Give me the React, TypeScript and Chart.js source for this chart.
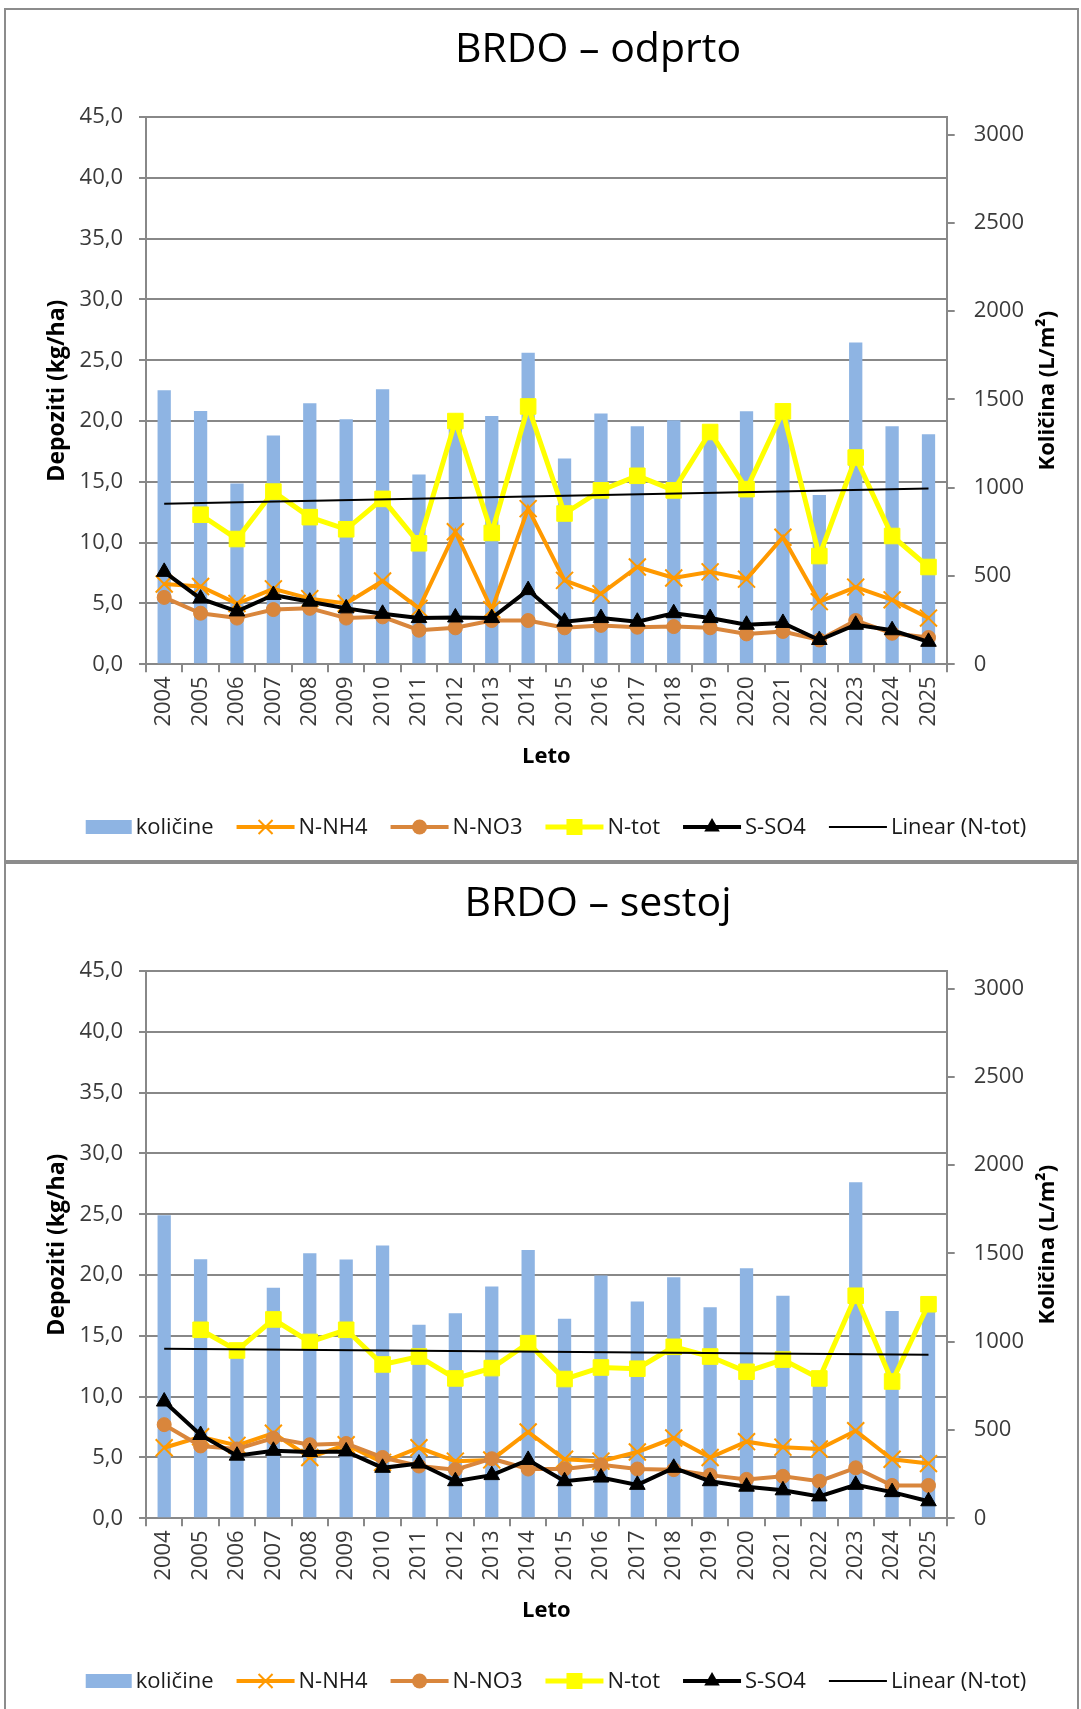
import React, { useEffect, useRef } from 'react';
import { Chart, registerables } from 'chart.js';

Chart.register(...registerables);

// ---------- data ----------
const years = ['2004', '2005', '2006', '2007', '2008', '2009', '2010', '2011', '2012', '2013', '2014',
  '2015', '2016', '2017', '2018', '2019', '2020', '2021', '2022', '2023', '2024', '2025'];

const leftTickMax = 45;
const leftTickStep = 5;
const rightTickMax = 3100;
const rightTicks = [0, 500, 1000, 1500, 2000, 2500, 3000];

// BRDO – odprto
const odprtoKolicine = [1552, 1435, 1024, 1296, 1478, 1388, 1558, 1075, 1360, 1407, 1765, 1166, 1420, 1349, 1382, 1320, 1433, 1430, 959, 1823, 1349, 1303];
const odprtoNNH4 = [6.6, 6.4, 5.0, 6.2, 5.4, 5.0, 6.85, 4.6, 10.9, 4.5, 12.8, 6.9, 5.8, 8.0, 7.1, 7.6, 7.0, 10.45, 5.15, 6.35, 5.3, 3.8];
const odprtoNNO3 = [5.5, 4.2, 3.8, 4.5, 4.6, 3.8, 3.9, 2.8, 3.0, 3.6, 3.6, 3.0, 3.2, 3.05, 3.1, 3.0, 2.5, 2.7, 2.0, 3.6, 2.55, 2.2];
const odprtoNtot = [null, 12.3, 10.3, 14.2, 12.1, 11.1, 13.6, 9.95, 20.0, 10.8, 21.2, 12.4, 14.3, 15.5, 14.3, 19.1, 14.4, 20.8, 8.9, 17.0, 10.55, 8.0];
const odprtoSSO4 = [7.6, 5.4, 4.35, 5.7, 5.15, 4.6, 4.15, 3.8, 3.85, 3.8, 6.1, 3.5, 3.8, 3.5, 4.2, 3.8, 3.25, 3.4, 2.0, 3.25, 2.8, 1.85];
const odprtoTrend = [13.2, null, null, null, null, null, null, null, null, null, null,
  null, null, null, null, null, null, null, null, null, null, 14.45];

// BRDO – sestoj
const sestojKolicine = [1717, 1467, 950, 1306, 1501, 1466, 1545, 1097, 1162, 1313, 1520, 1130, 1375, 1228, 1366, 1196, 1417, 1260, 830, 1903, 1174, 1210];
const sestojNNH4 = [5.8, 6.7, 6.0, 7.0, 5.0, 6.05, 4.6, 5.8, 4.7, 4.8, 7.1, 4.85, 4.7, 5.45, 6.6, 5.0, 6.3, 5.85, 5.7, 7.2, 4.85, 4.5];
const sestojNNO3 = [7.7, 5.95, 5.7, 6.6, 6.05, 6.15, 5.0, 4.3, 4.0, 4.9, 4.05, 4.05, 4.4, 4.05, 4.0, 3.55, 3.2, 3.45, 3.05, 4.15, 2.7, 2.7];
const sestojNtot = [null, 15.5, 13.8, 16.35, 14.5, 15.5, 12.65, 13.3, 11.5, 12.35, 14.4, 11.45, 12.4, 12.3, 14.1, 13.3, 12.05, 13.05, 11.5, 18.3, 11.25, 17.6];
const sestojSSO4 = [9.6, 6.85, 5.15, 5.55, 5.45, 5.5, 4.15, 4.5, 3.05, 3.55, 4.8, 3.05, 3.35, 2.75, 4.15, 3.05, 2.6, 2.3, 1.8, 2.75, 2.15, 1.4];
const sestojTrend = [13.95, null, null, null, null, null, null, null, null, null, null,
  null, null, null, null, null, null, null, null, null, null, 13.45];

// ---------- styles ----------
const FONT = '"Open Sans", "Noto Sans", sans-serif';
const GRID = '#888888';
const TICK = '#3a3a3a';
const BAR_C = '#8EB4E3';
const NH4_C = '#FF9900';
const NO3_C = '#D9863C';
const NTOT_C = '#FFFF00';
const SO4_C = '#000000';

const CANVAS_W = 1071;
const CANVAS_H = 850;

type Series = {
  title: string;
  kolicine: number[];
  nh4: number[];
  no3: number[];
  ntot: (number | null)[];
  so4: number[];
  trend: (number | null)[];
};

function drawMarker(ctx: CanvasRenderingContext2D, style: string, x: number, y: number, color: string) {
  ctx.save();
  ctx.fillStyle = color;
  ctx.strokeStyle = color;
  if (style === 'crossRot') {
    ctx.lineWidth = 2;
    const s = 7;
    ctx.beginPath();
    ctx.moveTo(x - s, y - s); ctx.lineTo(x + s, y + s);
    ctx.moveTo(x + s, y - s); ctx.lineTo(x - s, y + s);
    ctx.stroke();
  } else if (style === 'circle') {
    ctx.beginPath();
    ctx.arc(x, y, 7.5, 0, Math.PI * 2);
    ctx.fill();
  } else if (style === 'rect') {
    ctx.fillRect(x - 8, y - 8, 16, 16);
  } else if (style === 'triangle') {
    const r = 9;
    ctx.beginPath();
    ctx.moveTo(x, y - r);
    ctx.lineTo(x + r * Math.sin((2 * Math.PI) / 3), y - r * Math.cos((2 * Math.PI) / 3));
    ctx.lineTo(x + r * Math.sin((4 * Math.PI) / 3), y - r * Math.cos((4 * Math.PI) / 3));
    ctx.closePath();
    ctx.fill();
  }
  ctx.restore();
}

type LegendItem = { label: string; kind: 'box' | 'line'; color: string; lw: number; marker?: string };

const legendItems: LegendItem[] = [
  { label: 'količine', kind: 'box', color: BAR_C, lw: 0 },
  { label: 'N-NH4', kind: 'line', color: NH4_C, lw: 4, marker: 'crossRot' },
  { label: 'N-NO3', kind: 'line', color: NO3_C, lw: 4, marker: 'circle' },
  { label: 'N-tot', kind: 'line', color: NTOT_C, lw: 5, marker: 'rect' },
  { label: 'S-SO4', kind: 'line', color: SO4_C, lw: 4, marker: 'triangle' },
  { label: 'Linear (N-tot)', kind: 'line', color: '#000000', lw: 2 },
];

function makeDecorPlugin(title: string) {
  return {
    id: 'decor',
    afterDraw(chart: any) {
      const ctx: CanvasRenderingContext2D = chart.ctx;
      const ca = chart.chartArea;
      ctx.save();
      // chart title
      ctx.font = `41px ${FONT}`;
      ctx.fillStyle = '#000000';
      ctx.textAlign = 'center';
      ctx.textBaseline = 'alphabetic';
      ctx.fillText(title, 592, 52);

      // right axis title (reads bottom to top)
      ctx.save();
      ctx.font = `bold 22px ${FONT}`;
      ctx.translate(1042, (ca.top + ca.bottom) / 2);
      ctx.rotate(-Math.PI / 2);
      ctx.textAlign = 'center';
      ctx.textBaseline = 'middle';
      ctx.fillText('Količina (L/m²)', 0, 0);
      ctx.restore();

      // legend
      ctx.font = `22px ${FONT}`;
      ctx.textBaseline = 'middle';
      ctx.textAlign = 'left';
      const boxW = 46, lineW = 58, gapSym = 4, gapItem = 23;
      let total = 0;
      legendItems.forEach((it, i) => {
        total += (it.kind === 'box' ? boxW : lineW) + gapSym + ctx.measureText(it.label).width;
        if (i < legendItems.length - 1) total += gapItem;
      });
      let x = 550 - total / 2;
      const y = 817;
      legendItems.forEach((it) => {
        if (it.kind === 'box') {
          ctx.fillStyle = it.color;
          ctx.fillRect(x, y - 7, boxW, 14);
          x += boxW;
        } else {
          ctx.strokeStyle = it.color;
          ctx.lineWidth = it.lw;
          ctx.beginPath();
          ctx.moveTo(x, y);
          ctx.lineTo(x + lineW, y);
          ctx.stroke();
          if (it.marker) drawMarker(ctx, it.marker, x + lineW / 2, y, it.color);
          x += lineW;
        }
        x += gapSym;
        ctx.fillStyle = '#1a1a1a';
        ctx.fillText(it.label, x, y + 1);
        x += ctx.measureText(it.label).width + gapItem;
      });
      ctx.restore();
    },
  };
}

function ChartPanel({ s, top, height, last }: { s: Series; top: number; height: number; last?: boolean }) {
  const ref = useRef<HTMLCanvasElement>(null);

  useEffect(() => {
    const canvas = ref.current;
    if (!canvas) return;
    const tickFont = { family: FONT, size: 22 };
    const titleFont = { family: FONT, size: 23, weight: 'bold' as const };
    const chart = new Chart(canvas, {
      type: 'bar',
      data: {
        labels: years,
        datasets: [
          {
            type: 'line',
            label: 'Linear (N-tot)',
            data: s.trend,
            yAxisID: 'y',
            borderColor: '#000000',
            borderWidth: 2,
            pointRadius: 0,
            spanGaps: true,
            order: 0,
          },
          {
            type: 'line',
            label: 'S-SO4',
            data: s.so4,
            yAxisID: 'y',
            borderColor: SO4_C,
            backgroundColor: SO4_C,
            borderWidth: 4,
            pointStyle: 'triangle',
            pointRadius: 9,
            pointBorderWidth: 1,
            pointBackgroundColor: SO4_C,
            pointBorderColor: SO4_C,
            order: 1,
          },
          {
            type: 'line',
            label: 'N-tot',
            data: s.ntot,
            yAxisID: 'y',
            borderColor: NTOT_C,
            backgroundColor: NTOT_C,
            borderWidth: 5,
            pointStyle: 'rect',
            pointRadius: 11,
            pointBorderWidth: 1,
            pointBackgroundColor: NTOT_C,
            pointBorderColor: NTOT_C,
            order: 2,
          },
          {
            type: 'line',
            label: 'N-NO3',
            data: s.no3,
            yAxisID: 'y',
            borderColor: NO3_C,
            backgroundColor: NO3_C,
            borderWidth: 4,
            pointStyle: 'circle',
            pointRadius: 7,
            pointBorderWidth: 1,
            pointBackgroundColor: NO3_C,
            pointBorderColor: NO3_C,
            order: 3,
          },
          {
            type: 'line',
            label: 'N-NH4',
            data: s.nh4,
            yAxisID: 'y',
            borderColor: NH4_C,
            backgroundColor: NH4_C,
            borderWidth: 4,
            pointStyle: 'crossRot',
            pointRadius: 12,
            pointBorderWidth: 2,
            pointBorderColor: NH4_C,
            order: 4,
          },
          {
            type: 'bar',
            label: 'količine',
            data: s.kolicine,
            yAxisID: 'y1',
            backgroundColor: BAR_C,
            barPercentage: 0.365,
            categoryPercentage: 1,
            order: 10,
          },
        ],
      } as any,
      options: {
        responsive: false,
        animation: false,
        layout: { padding: { top: 107, bottom: 70, left: 0, right: 0 }, autoPadding: false },
        plugins: {
          legend: { display: false },
          title: { display: false },
          tooltip: { enabled: false },
        },
        scales: {
          x: {
            type: 'category',
            offset: true,
            grid: { offset: true, drawOnChartArea: false, drawTicks: true, tickLength: 8, color: GRID, lineWidth: 2 },
            border: { display: true, color: GRID, width: 2 },
            ticks: { autoSkip: false, maxRotation: 90, minRotation: 90, padding: 4, color: TICK, font: tickFont },
            title: { display: true, text: 'Leto', color: '#000000', font: { family: FONT, size: 22, weight: 'bold' }, padding: { top: 0, bottom: 20 } },
            afterFit: (sc: any) => { sc.height = 125.7; },
          },
          y: {
            type: 'linear',
            position: 'left',
            min: 0,
            max: leftTickMax,
            ticks: {
              stepSize: leftTickStep,
              padding: 16,
              color: TICK,
              font: tickFont,
              callback: (v: any) => Number(v).toFixed(1).replace('.', ','),
            },
            grid: { color: GRID, lineWidth: 2, tickLength: 7, drawTicks: true },
            border: { display: true, color: GRID, width: 2 },
            title: { display: true, text: 'Depoziti (kg/ha)', color: '#000000', font: titleFont, padding: { top: 38, bottom: 0 } },
            afterFit: (sc: any) => { sc.width = 140; },
          },
          y1: {
            type: 'linear',
            position: 'right',
            min: 0,
            max: rightTickMax,
            afterBuildTicks: (sc: any) => { sc.ticks = rightTicks.map((v) => ({ value: v })); },
            ticks: {
              padding: 19,
              color: TICK,
              font: tickFont,
              callback: (v: any) => String(v),
            },
            grid: { drawOnChartArea: false, drawTicks: true, tickLength: 8, color: GRID, lineWidth: 2 },
            border: { display: true, color: GRID, width: 2 },
            afterFit: (sc: any) => { sc.width = 130.3; },
          },
        },
      } as any,
      plugins: [makeDecorPlugin(s.title)],
    });
    return () => chart.destroy();
  }, [s]);

  return (
    <div
      style={{
        position: 'absolute',
        left: 4,
        top,
        width: 1075,
        height,
        boxSizing: 'border-box',
        border: '2px solid #8c8c8c',
        borderBottom: last ? 'none' : '2px solid #8c8c8c',
        background: '#ffffff',
        overflow: 'hidden',
      }}
    >
      <canvas ref={ref} width={CANVAS_W} height={CANVAS_H} style={{ display: 'block', width: CANVAS_W, height: CANVAS_H }} />
    </div>
  );
}

const odprto: Series = {
  title: 'BRDO – odprto',
  kolicine: odprtoKolicine,
  nh4: odprtoNNH4,
  no3: odprtoNNO3,
  ntot: odprtoNtot,
  so4: odprtoSSO4,
  trend: odprtoTrend,
};

const sestoj: Series = {
  title: 'BRDO – sestoj',
  kolicine: sestojKolicine,
  nh4: sestojNNH4,
  no3: sestojNNO3,
  ntot: sestojNtot,
  so4: sestojSSO4,
  trend: sestojTrend,
};

export default function App() {
  return (
    <div style={{ position: 'absolute', left: 0, top: 0, width: 1081, height: 1709, overflow: 'hidden' }}>
      <ChartPanel s={odprto} top={8} height={854} />
      <ChartPanel s={sestoj} top={862} height={847} last />
    </div>
  );
}
